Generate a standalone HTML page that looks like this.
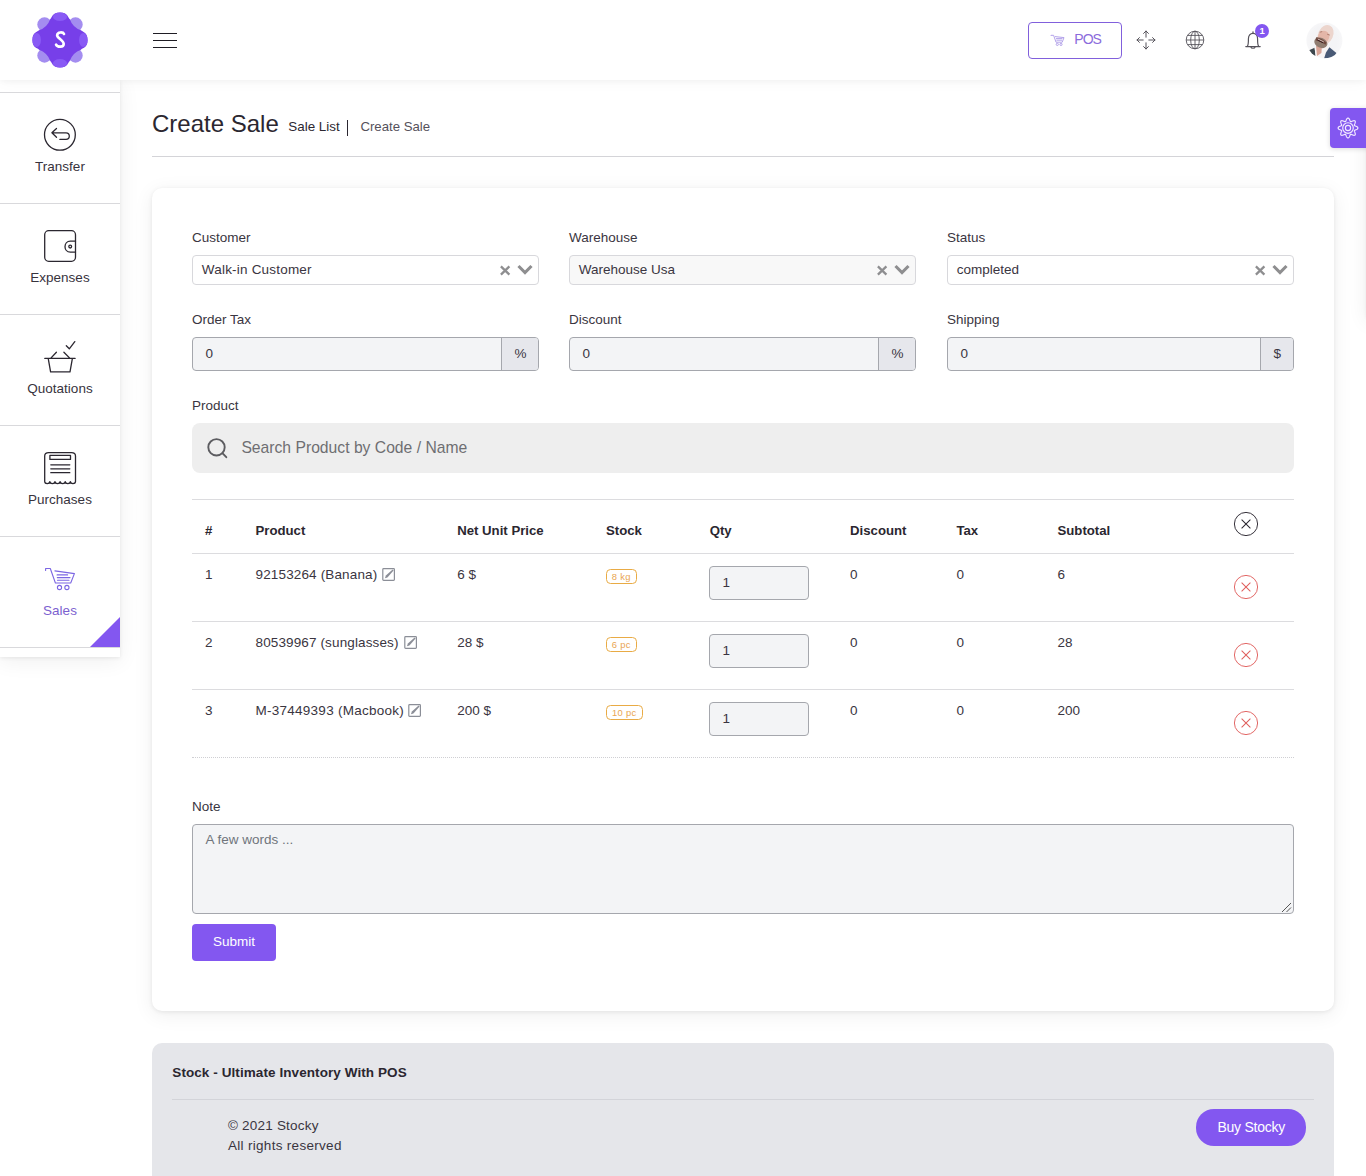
<!DOCTYPE html>
<html lang="en">
<head>
<meta charset="utf-8">
<title>Create Sale</title>
<style>
*{box-sizing:border-box;margin:0;padding:0}
html,body{width:1366px;height:1176px;overflow:hidden;background:#fff;font-family:"Liberation Sans",sans-serif;color:#332e38}
body{position:relative}
.a{position:absolute}
.t{position:absolute;white-space:nowrap;line-height:1;font-size:13px;color:#3a3541}
.b{font-weight:bold}
/* header */
#hdr{left:0;top:0;width:1366px;height:80px;background:#fff;box-shadow:0 1px 15px rgba(0,0,0,.04),0 1px 6px rgba(0,0,0,.04);z-index:5}
.hl{left:153px;width:24px;height:1.2px;background:#1f1d24}
#pos{left:1028px;top:22px;width:94px;height:37px;border:1px solid #8160dc;border-radius:4px}
/* sidebar */
#side{left:0;top:80px;width:120px;height:577px;background:#fff;box-shadow:0 4px 20px 1px rgba(0,0,0,.06),0 1px 4px rgba(0,0,0,.08);z-index:4;overflow:hidden}
.sl{left:0;width:120px;height:1px;background:#d9d9dc}
.st{width:120px;left:0;text-align:center;font-size:13.5px;color:#37333d}
#tri{left:90px;top:537px;width:0;height:0;border-style:solid;border-width:0 0 30px 30px;border-color:transparent transparent #8357f0 transparent}
/* main */
#sep{left:152px;top:156px;width:1182px;height:1px;background:#d4d4d8}
#card{left:152px;top:188px;width:1182px;height:823px;background:#fff;border-radius:10px;box-shadow:0 4px 20px 1px rgba(0,0,0,.06),0 1px 4px rgba(0,0,0,.08)}
#foot{left:152px;top:1043px;width:1182px;height:160px;background:#e5e6ea;border-radius:10px}
#gear{left:1330px;top:108px;width:40px;height:40px;box-shadow:0 1px 5px rgba(0,0,0,.15);background:#8357f0;border-radius:4px 0 0 4px;z-index:6}
/* form */
.lb,.sv,.iv,.ad,.th,.td{font-size:13.5px}
.sv{margin-left:.3px}
.th{font-size:13.2px;color:#2b2730}
.sel{height:30px;width:347px;border:1px solid #d8d8dc;border-radius:4px;background:#fff}
.sel.dis{background:#f8f8f8}
.inp{height:34px;width:347px;border:1px solid #a5a7ad;border-radius:4px;background:#f3f4f6;overflow:hidden}
.add{right:0;top:0;width:37px;height:32px;background:#e6e7ec;border-left:1px solid #a5a7ad}
#search{left:192px;top:423px;width:1102px;height:50px;background:#eeeeee;border-radius:8px}
.hr{left:192px;width:1102px;height:1px;background:#dcdcdf}
.qty{left:709px;width:100px;height:34px;border:1px solid #a5a7ad;border-radius:4px;background:#f3f4f6}
.bdg{height:15px;border:1px solid #e9ab45;border-radius:4.5px;color:#e9a552;font-size:9.4px;line-height:13.4px;text-align:center;letter-spacing:.3px;white-space:nowrap}
#note{left:192px;top:824px;width:1102px;height:90px;border:1px solid #a5a7ad;border-radius:4px;background:#f3f4f6}
#submit{left:192px;top:924px;width:84px;height:37px;background:#8357f0;border-radius:4px}
#buy{left:1196px;top:1109px;width:110px;height:36.5px;background:#8357f0;border-radius:18px}
</style>
</head>
<body>
<!-- HEADER -->
<div id="hdr" class="a">
  <div class="a hl" style="top:32.9px"></div>
  <div class="a hl" style="top:39.9px"></div>
  <div class="a hl" style="top:46.9px"></div>
  <div id="pos" class="a"></div>
<svg class="a" id="logo" style="left:30.4px;top:9.7px" width="60" height="60" viewBox="-30 -30 60 60">
<g fill="#a48df0"><circle cx="-15.5" cy="-15.5" r="7.2"/><circle cx="15.5" cy="-15.5" r="7.2"/><circle cx="-15.5" cy="15.5" r="7.2"/><circle cx="15.5" cy="15.5" r="7.2"/></g>
<path fill="#773fe9" d="M-9.7 -21.0 C-8 -22.2 -8 -27.6 0 -27.6 C8 -27.6 8 -22.2 9.7 -21.0 Q12.6 -12.6 21.0 -9.7 C22.2 -8 27.6 -8 27.6 0 C27.6 8 22.2 8 21.0 9.7 Q12.6 12.6 9.7 21.0 C8 22.2 8 27.6 0 27.6 C-8 27.6 -8 22.2 -9.7 21.0 Q-12.6 12.6 -21.0 9.7 C-22.2 8 -27.6 8 -27.6 0 C-27.6 -8 -22.2 -8 -21.0 -9.7 Q-12.6 -12.6 -9.7 -21.0 Z"/>
<g fill="#895af5"><ellipse cx="0" cy="-23.3" rx="7.1" ry="4.3"/><ellipse cx="0" cy="23.3" rx="7.1" ry="4.3"/><ellipse cx="-23.3" cy="0" rx="4.3" ry="7.1"/><ellipse cx="23.3" cy="0" rx="4.3" ry="7.1"/></g>
<path transform="translate(0.2 -0.3) scale(1.06)" d="M3.6 -5.4 C2.8 -7.3 -2.6 -7.7 -2.9 -4.2 C-3.1 -1.6 3.4 0.6 3.3 4 C3.2 7.3 -2.6 7.3 -3.9 4.6" fill="none" stroke="#fff" stroke-width="2.5" stroke-linecap="round"/>
</svg><svg class="a" style="left:1050px;top:34px" width="16" height="13" viewBox="0 0 16 13"><g fill="none" stroke="#b3a2ea" stroke-width="1"><path d="M1 2 L1 1.3 L3.6 1.3 L6 8.2 L12.2 8.2 L14 3.6 L5 2.6"/><circle cx="7.3" cy="10.4" r="1.1"/><circle cx="11" cy="10.4" r="1.1"/><path d="M6 4.6 H12.5 M6.4 6.2 H12"/></g></svg><svg class="a" style="left:1135.6px;top:30px" width="20" height="20" viewBox="0 0 20 20"><g fill="none" stroke="#55525a" stroke-width="1" stroke-linecap="round" stroke-linejoin="round"><path d="M10 1 V7.2 M7.6 3.4 L10 1 L12.4 3.4"/><path d="M10 19 V12.8 M7.6 16.6 L10 19 L12.4 16.6"/><path d="M1 10 H7.2 M3.4 7.6 L1 10 L3.4 12.4"/><path d="M19 10 H12.8 M16.6 7.6 L19 10 L16.6 12.4"/></g></svg><svg class="a" style="left:1185px;top:29.6px" width="20" height="20" viewBox="0 0 20 20"><g fill="none" stroke="#55525a" stroke-width="0.9"><circle cx="10" cy="10" r="8.8"/><ellipse cx="10" cy="10" rx="4.3" ry="8.8"/><path d="M10 1.2 V18.8 M1.2 10 H18.8 M2.6 5.4 H17.4 M2.6 14.6 H17.4"/></g></svg><svg class="a" style="left:1244px;top:29.8px" width="18" height="21" viewBox="0 0 18 21"><g fill="none" stroke="#55525a" stroke-width="1.2" stroke-linecap="round" stroke-linejoin="round"><path d="M1.8 16.6 H16.2 M3.2 16.6 C4.6 14.8 4.4 12 4.4 9 C4.4 5.6 6.2 3.4 9 3.4 C11.8 3.4 13.6 5.6 13.6 9 C13.6 12 13.4 14.8 14.8 16.6"/><path d="M9 3.4 V1.8"/><path d="M7 17.2 C7.2 18.6 10.8 18.6 11 17.2"/></g></svg><div class="a" style="left:1255.2px;top:23.8px;width:14px;height:14px;border-radius:7px;background:#8357f0"></div><div class="t b" style="left:1255.2px;top:26.3px;width:14px;text-align:center;font-size:9.5px;color:#fff">1</div><svg class="a" id="avatar" style="left:1300px;top:16px" width="48" height="48" viewBox="0 0 48 48"><defs><clipPath id="av"><circle cx="24.4" cy="24.4" r="18"/></clipPath><radialGradient id="avg"><stop offset="0.55" stop-color="#f4f4f6"/><stop offset="1" stop-color="#fafafb"/></radialGradient><filter id="avb" x="-20%" y="-20%" width="140%" height="140%"><feGaussianBlur stdDeviation="0.55"/></filter></defs><g clip-path="url(#av)"><rect width="48" height="48" fill="url(#avg)"/><g filter="url(#avb)"><path d="M8.5 34.5 L14.6 31.8 L15.6 39.8 L11.5 40.5 Z" fill="#3d464d"/><path d="M14.6 31.8 L29.4 31 L24.5 42 L15.6 39.8 Z" fill="#f8f5f5"/><path d="M16 30 L22 30 L21.4 37 L17 40 Z" fill="#d9a597"/><path d="M29.4 31.2 L36.4 37 L33 42 L24.2 42.2 L26 36.6 Z" fill="#4a5a76"/><ellipse cx="25.6" cy="18.8" rx="7.5" ry="10.2" transform="rotate(24 25.6 18.8)" fill="#ecd5cd"/><ellipse cx="23.6" cy="20.8" rx="5.6" ry="6" transform="rotate(24 23.6 20.8)" fill="#e3b6a8"/><ellipse cx="20.8" cy="26.8" rx="6.8" ry="5" transform="rotate(24 20.8 26.8)" fill="#8f7b70"/><path d="M16.4 21 C18 21.6 23.5 23.4 26.5 26.6 L25.6 28.8 C22.5 26.6 18.6 25.2 15.8 24.6 Z" fill="#70493f"/><path d="M17.8 23 L23.8 25.9" stroke="#dccbc5" stroke-width="0.9" fill="none"/><path d="M17.4 24 L23.2 26.9" stroke="#3a1f1f" stroke-width="1" fill="none"/><path d="M19.6 16.2 l2.6 -.6 M27.2 18.2 l2.6 .9" stroke="#a97464" stroke-width="0.9" fill="none"/></g></g></svg>
  <div class="t" id="post" style="left:1074.3px;top:32px;font-size:14px;letter-spacing:-0.95px;color:#8b6bdc">POS</div>
</div>

<!-- SIDEBAR -->
<div id="side" class="a">
  <div class="a sl" style="top:12px"></div>
  <div class="a sl" style="top:123px"></div>
  <div class="a sl" style="top:234px"></div>
  <div class="a sl" style="top:345px"></div>
  <div class="a sl" style="top:456px"></div>
  <div class="a sl" style="top:567px"></div>
  <div class="t st" style="top:80px">Transfer</div>
  <div class="t st" style="top:191px">Expenses</div>
  <div class="t st" style="top:302px">Quotations</div>
  <div class="t st" style="top:413px">Purchases</div>
  <div class="t st" style="top:524px;color:#7c5fd0">Sales</div>
  <svg class="a" style="left:43px;top:38px" width="34" height="34" viewBox="43 118 34 34"><g fill="none" stroke="#2b2730" stroke-width="1.3" stroke-linecap="round" stroke-linejoin="round"><circle cx="59.9" cy="134.8" r="15.4"/><path d="M56.5 128.5 L51.9 132.8 L56.5 137.3 M52.2 132.8 H66 C70.4 132.8 70.4 139.4 66 139.4 H59.9"/></g></svg>
<svg class="a" style="left:43px;top:149px" width="34" height="34" viewBox="43 229 34 34"><g fill="none" stroke="#2b2730" stroke-width="1.3" stroke-linecap="round" stroke-linejoin="round"><rect x="44.7" y="230.7" width="30.8" height="30.6" rx="4"/><path d="M75.5 241.2 H70.4 C63.2 241.2 63.2 252.1 70.4 252.1 H75.5"/><circle cx="70.2" cy="246.6" r="1.4"/></g></svg>
<svg class="a" style="left:43px;top:260px" width="34" height="34" viewBox="43 340 34 34"><g fill="none" stroke="#2b2730" stroke-width="1.3" stroke-linecap="round" stroke-linejoin="round" stroke-linecap="butt" stroke-linejoin="miter"><path d="M44.8 358.4 H75.1 M48.2 358.4 L50.6 371.9 H70 L72.4 358.4 M50.6 358.4 L56.4 352.2 M70 358.4 L63.9 352.2 M66.3 345.7 L69.3 348.8 L74.8 341.6"/></g></svg>
<svg class="a" style="left:43px;top:371px" width="34" height="34" viewBox="43 451 34 34"><g fill="none" stroke="#2b2730" stroke-width="1.3" stroke-linecap="round" stroke-linejoin="round"><path d="M44.7 481.6 V456 C44.7 453.6 46.2 452.7 48.7 452.7 H71.5 C74.0 452.7 75.5 453.6 75.5 456 V481.6 C75.2 484.2 70.66666666666667 484.2 70.36666666666667 481.6 C70.06666666666668 484.2 65.53333333333335 484.2 65.23333333333335 481.6 C64.93333333333334 484.2 60.4 484.2 60.1 481.6 C59.800000000000004 484.2 55.266666666666666 484.2 54.96666666666667 481.6 C54.66666666666667 484.2 50.13333333333333 484.2 49.833333333333336 481.6 C49.53333333333334 484.2 45.0 484.2 44.7 481.6"/><rect x="49.9" y="455.4" width="20.6" height="4"/><path d="M50.8 464.8 H69.8 M50.8 468.8 H69.8 M50.8 472.7 H69.8"/></g></svg>
<svg class="a" style="left:43px;top:486px" width="34" height="26" viewBox="43 566 34 26"><g fill="none" stroke="#7c66e3" stroke-width="1.1" stroke-linecap="round" stroke-linejoin="round"><path d="M45.6 570.4 V568.5 H50.3 L55.4 583 H70.7 L74.4 573.6 L54.9 570.9"/><path d="M57.1 574.9 H67.6 M57.3 577.6 H70 M57.5 580.2 H69"/><circle cx="59.5" cy="587.5" r="2.1"/><circle cx="66.9" cy="587.5" r="2.1"/></g></svg>
<div id="tri" class="a"></div>
</div>

<!-- MAIN -->
<div class="t" id="title" style="left:152px;top:112px;font-size:24px;color:#2b2730">Create Sale</div>
<div class="t" id="bc1" style="left:288.3px;top:120px;font-size:13.4px;color:#2b2730">Sale List</div>
<div class="a" id="bc2" style="left:347px;top:120px;width:1.3px;height:16px;background:#2b2730"></div>
<div class="t" id="bc3" style="left:360.4px;top:120px;font-size:13.2px;color:#55515b">Create Sale</div>
<div id="sep" class="a"></div>
<div class="a" style="left:1367px;top:112px;width:60px;height:205px;box-shadow:0 4px 20px 1px rgba(0,0,0,.07),0 1px 4px rgba(0,0,0,.09);z-index:3"></div>
<div id="gear" class="a"><svg class="a" style="left:7px;top:9.1px" width="22" height="22" viewBox="-11 -11 22 22"><g fill="none" stroke="#f1e9ff" stroke-width="1.15"><path d="M0.00 -9.90 L0.26 -9.86 L0.51 -9.76 L0.75 -9.58 L0.98 -9.35 L1.19 -9.07 L1.39 -8.75 L1.56 -8.41 L1.71 -8.06 L1.85 -7.72 L1.98 -7.39 L2.10 -7.09 L2.22 -6.83 L2.35 -6.63 L2.48 -6.47 L2.64 -6.37 L2.82 -6.33 L3.03 -6.34 L3.26 -6.40 L3.53 -6.50 L3.82 -6.63 L4.15 -6.77 L4.49 -6.91 L4.85 -7.05 L5.21 -7.17 L5.57 -7.26 L5.92 -7.31 L6.24 -7.31 L6.54 -7.26 L6.79 -7.16 L7.00 -7.00 L7.16 -6.79 L7.26 -6.54 L7.31 -6.24 L7.31 -5.92 L7.26 -5.57 L7.17 -5.21 L7.05 -4.85 L6.91 -4.49 L6.77 -4.15 L6.63 -3.83 L6.50 -3.53 L6.40 -3.26 L6.34 -3.03 L6.33 -2.82 L6.37 -2.64 L6.47 -2.48 L6.63 -2.35 L6.83 -2.22 L7.09 -2.10 L7.39 -1.98 L7.72 -1.85 L8.06 -1.71 L8.41 -1.56 L8.75 -1.39 L9.07 -1.19 L9.35 -0.98 L9.58 -0.75 L9.76 -0.51 L9.86 -0.26 L9.90 -0.00 L9.86 0.26 L9.76 0.51 L9.58 0.75 L9.35 0.98 L9.07 1.19 L8.75 1.39 L8.41 1.56 L8.06 1.71 L7.72 1.85 L7.39 1.98 L7.09 2.10 L6.83 2.22 L6.63 2.35 L6.47 2.48 L6.37 2.64 L6.33 2.82 L6.34 3.03 L6.40 3.26 L6.50 3.53 L6.63 3.82 L6.77 4.15 L6.91 4.49 L7.05 4.85 L7.17 5.21 L7.26 5.57 L7.31 5.92 L7.31 6.24 L7.26 6.54 L7.16 6.79 L7.00 7.00 L6.79 7.16 L6.54 7.26 L6.24 7.31 L5.92 7.31 L5.57 7.26 L5.21 7.17 L4.85 7.05 L4.49 6.91 L4.15 6.77 L3.82 6.63 L3.53 6.50 L3.26 6.40 L3.03 6.34 L2.82 6.33 L2.64 6.37 L2.48 6.47 L2.35 6.63 L2.22 6.83 L2.10 7.09 L1.98 7.39 L1.85 7.72 L1.71 8.06 L1.56 8.41 L1.39 8.75 L1.19 9.07 L0.98 9.35 L0.75 9.58 L0.51 9.76 L0.26 9.86 L0.00 9.90 L-0.26 9.86 L-0.51 9.76 L-0.75 9.58 L-0.98 9.35 L-1.19 9.07 L-1.39 8.75 L-1.56 8.41 L-1.71 8.06 L-1.85 7.72 L-1.98 7.39 L-2.10 7.09 L-2.22 6.83 L-2.35 6.63 L-2.48 6.47 L-2.64 6.37 L-2.82 6.33 L-3.03 6.34 L-3.26 6.40 L-3.53 6.50 L-3.82 6.63 L-4.15 6.77 L-4.49 6.91 L-4.85 7.05 L-5.21 7.17 L-5.57 7.26 L-5.92 7.31 L-6.24 7.31 L-6.54 7.26 L-6.79 7.16 L-7.00 7.00 L-7.16 6.79 L-7.26 6.54 L-7.31 6.24 L-7.31 5.92 L-7.26 5.57 L-7.17 5.21 L-7.05 4.85 L-6.91 4.49 L-6.77 4.15 L-6.63 3.83 L-6.50 3.53 L-6.40 3.26 L-6.34 3.03 L-6.33 2.82 L-6.37 2.64 L-6.47 2.48 L-6.63 2.35 L-6.83 2.22 L-7.09 2.10 L-7.39 1.98 L-7.72 1.85 L-8.06 1.71 L-8.41 1.56 L-8.75 1.39 L-9.07 1.19 L-9.35 0.98 L-9.58 0.75 L-9.76 0.51 L-9.86 0.26 L-9.90 0.00 L-9.86 -0.26 L-9.76 -0.51 L-9.58 -0.75 L-9.35 -0.98 L-9.07 -1.19 L-8.75 -1.39 L-8.41 -1.56 L-8.06 -1.71 L-7.72 -1.85 L-7.39 -1.98 L-7.09 -2.10 L-6.83 -2.22 L-6.63 -2.35 L-6.47 -2.48 L-6.37 -2.64 L-6.33 -2.82 L-6.34 -3.03 L-6.40 -3.26 L-6.50 -3.53 L-6.63 -3.83 L-6.77 -4.15 L-6.91 -4.49 L-7.05 -4.85 L-7.17 -5.21 L-7.26 -5.57 L-7.31 -5.92 L-7.31 -6.24 L-7.26 -6.54 L-7.16 -6.79 L-7.00 -7.00 L-6.79 -7.16 L-6.54 -7.26 L-6.24 -7.31 L-5.92 -7.31 L-5.57 -7.26 L-5.21 -7.17 L-4.85 -7.05 L-4.49 -6.91 L-4.15 -6.77 L-3.82 -6.63 L-3.53 -6.50 L-3.26 -6.40 L-3.03 -6.34 L-2.82 -6.33 L-2.64 -6.37 L-2.48 -6.47 L-2.35 -6.63 L-2.22 -6.83 L-2.10 -7.09 L-1.98 -7.39 L-1.85 -7.72 L-1.71 -8.06 L-1.56 -8.41 L-1.39 -8.75 L-1.19 -9.07 L-0.98 -9.35 L-0.75 -9.58 L-0.51 -9.76 L-0.26 -9.86 Z"/><circle r="5.3"/><circle r="2.6"/></g></svg></div>

<div id="card" class="a"></div>

<!-- FORM -->
<div id="form">
<div class="t lb" style="left:192px;top:231px">Customer</div>
<div class="a sel" style="left:192px;top:255px"></div>
<div class="t sv" style="left:201.5px;top:263px;letter-spacing:.2px">Walk-in Customer</div>
<svg class="a" style="left:499.5px;top:265px" width="11" height="11" viewBox="0 0 11 11"><path d="M0.9 1.4 L9.4 9.6 M9.4 1.4 L0.9 9.6" stroke="#8e8e90" stroke-width="2.3" fill="none"/></svg>
<svg class="a" style="left:516.5px;top:264px" width="16" height="11" viewBox="0 0 16 11"><path d="M1.5 2 L8 8.5 L14.5 2" stroke="#8e8e90" stroke-width="3.1" fill="none" stroke-linejoin="miter"/></svg>
<div class="t lb" style="left:192px;top:312.5px">Order Tax</div>
<div class="a inp" style="left:192px;top:337px"><div class="a add"></div></div>
<div class="t iv" style="left:205.5px;top:346.6px">0</div>
<div class="t ad" style="left:502px;top:347px;width:37px;text-align:center">%</div>
<div class="t lb" style="left:569px;top:231px">Warehouse</div>
<div class="a sel dis" style="left:569px;top:255px"></div>
<div class="t sv" style="left:578.5px;top:263px">Warehouse Usa</div>
<svg class="a" style="left:876.5px;top:265px" width="11" height="11" viewBox="0 0 11 11"><path d="M0.9 1.4 L9.4 9.6 M9.4 1.4 L0.9 9.6" stroke="#8e8e90" stroke-width="2.3" fill="none"/></svg>
<svg class="a" style="left:893.5px;top:264px" width="16" height="11" viewBox="0 0 16 11"><path d="M1.5 2 L8 8.5 L14.5 2" stroke="#8e8e90" stroke-width="3.1" fill="none" stroke-linejoin="miter"/></svg>
<div class="t lb" style="left:569px;top:312.5px">Discount</div>
<div class="a inp" style="left:569px;top:337px"><div class="a add"></div></div>
<div class="t iv" style="left:582.5px;top:346.6px">0</div>
<div class="t ad" style="left:879px;top:347px;width:37px;text-align:center">%</div>
<div class="t lb" style="left:947px;top:231px">Status</div>
<div class="a sel" style="left:947px;top:255px"></div>
<div class="t sv" style="left:956.5px;top:263px">completed</div>
<svg class="a" style="left:1254.5px;top:265px" width="11" height="11" viewBox="0 0 11 11"><path d="M0.9 1.4 L9.4 9.6 M9.4 1.4 L0.9 9.6" stroke="#8e8e90" stroke-width="2.3" fill="none"/></svg>
<svg class="a" style="left:1271.5px;top:264px" width="16" height="11" viewBox="0 0 16 11"><path d="M1.5 2 L8 8.5 L14.5 2" stroke="#8e8e90" stroke-width="3.1" fill="none" stroke-linejoin="miter"/></svg>
<div class="t lb" style="left:947px;top:312.5px">Shipping</div>
<div class="a inp" style="left:947px;top:337px"><div class="a add" style="width:33.5px"></div></div>
<div class="t iv" style="left:960.5px;top:346.6px">0</div>
<div class="t ad" style="left:1260.5px;top:347px;width:33.5px;text-align:center">$</div>
<div class="t lb" style="left:192px;top:399.2px">Product</div>
<div id="search" class="a"></div>
<svg class="a" style="left:205px;top:436px" width="26" height="26" viewBox="0 0 26 26"><circle cx="11.5" cy="11.3" r="8.2" fill="none" stroke="#5c5c60" stroke-width="1.9"/><path d="M17.4 17.2 L21.3 21.2" stroke="#5c5c60" stroke-width="1.9" stroke-linecap="round"/></svg>
<div class="t" id="ph" style="left:241.4px;top:440.4px;font-size:15.7px;color:#6e6e72">Search Product by Code / Name</div>
<div class="a hr" style="top:499px"></div>
<div class="a hr" style="top:553px"></div>
<div class="a hr" style="top:621px"></div>
<div class="a hr" style="top:689px"></div>
<div class="a" style="left:192px;top:757px;width:1102px;height:0;border-top:1px dotted #cfcfd3"></div>
<div class="t b th" style="left:205px;top:523.8px">#</div>
<div class="t b th" style="left:255.5px;top:523.8px">Product</div>
<div class="t b th" style="left:457.2px;top:523.8px">Net Unit Price</div>
<div class="t b th" style="left:606px;top:523.8px">Stock</div>
<div class="t b th" style="left:709.7px;top:523.8px">Qty</div>
<div class="t b th" style="left:850.1px;top:523.8px">Discount</div>
<div class="t b th" style="left:956.4px;top:523.8px">Tax</div>
<div class="t b th" style="left:1057.5px;top:523.8px">Subtotal</div>
<svg class="a" style="left:1233.3px;top:510.8px" width="26" height="26" viewBox="0 0 26 26"><circle cx="13" cy="13" r="11.6" fill="none" stroke="#2b2730" stroke-width="0.95"/><path d="M8.6 8.6 L17.4 17.4 M17.4 8.6 L8.6 17.4" stroke="#2b2730" stroke-width="1.05" fill="none"/></svg>
<div class="t td" style="left:205px;top:568.2px">1</div>
<div class="t td pn" style="left:255.5px;top:568.2px;letter-spacing:.15px">92153264 (Banana)</div>
<div class="t td" style="left:457.2px;top:568.2px">6 $</div>
<div class="a bdg" style="left:606px;top:569px;width:30.5px">8 kg</div>
<div class="a qty" style="top:566px"></div>
<div class="t td" style="left:722.5px;top:575.6px">1</div>
<div class="t td" style="left:850.1px;top:568.2px">0</div>
<div class="t td" style="left:956.4px;top:568.2px">0</div>
<div class="t td" style="left:1057.5px;top:568.2px">6</div>
<svg class="a" style="left:1233.3px;top:574px" width="26" height="26" viewBox="0 0 26 26"><circle cx="13" cy="13" r="11.6" fill="none" stroke="#e0605e" stroke-width="0.95"/><path d="M8.6 8.6 L17.4 17.4 M17.4 8.6 L8.6 17.4" stroke="#e0605e" stroke-width="1.05" fill="none"/></svg>
<svg class="a ed" style="left:382px;top:567px" width="14" height="14" viewBox="0 0 14 14"><rect x="0.8" y="1.7" width="11.6" height="11.6" rx="0.8" fill="none" stroke="#8b8e97" stroke-width="1.2"/><path d="M2.9 11.3 L3.9 8.4 L10.6 2.6 L11.6 3.6 L5.4 10.6 Z" fill="#8b8e97"/></svg>
<div class="t td" style="left:205px;top:636.2px">2</div>
<div class="t td pn" style="left:255.5px;top:636.2px;letter-spacing:.13px">80539967 (sunglasses)</div>
<div class="t td" style="left:457.2px;top:636.2px">28 $</div>
<div class="a bdg" style="left:606px;top:637px;width:30.5px">6 pc</div>
<div class="a qty" style="top:634px"></div>
<div class="t td" style="left:722.5px;top:643.6px">1</div>
<div class="t td" style="left:850.1px;top:636.2px">0</div>
<div class="t td" style="left:956.4px;top:636.2px">0</div>
<div class="t td" style="left:1057.5px;top:636.2px">28</div>
<svg class="a" style="left:1233.3px;top:642px" width="26" height="26" viewBox="0 0 26 26"><circle cx="13" cy="13" r="11.6" fill="none" stroke="#e0605e" stroke-width="0.95"/><path d="M8.6 8.6 L17.4 17.4 M17.4 8.6 L8.6 17.4" stroke="#e0605e" stroke-width="1.05" fill="none"/></svg>
<svg class="a ed" style="left:404px;top:635px" width="14" height="14" viewBox="0 0 14 14"><rect x="0.8" y="1.7" width="11.6" height="11.6" rx="0.8" fill="none" stroke="#8b8e97" stroke-width="1.2"/><path d="M2.9 11.3 L3.9 8.4 L10.6 2.6 L11.6 3.6 L5.4 10.6 Z" fill="#8b8e97"/></svg>
<div class="t td" style="left:205px;top:704.2px">3</div>
<div class="t td pn" style="left:255.5px;top:704.2px;letter-spacing:.26px">M-37449393 (Macbook)</div>
<div class="t td" style="left:457.2px;top:704.2px">200 $</div>
<div class="a bdg" style="left:606px;top:705px;width:36.5px">10 pc</div>
<div class="a qty" style="top:702px"></div>
<div class="t td" style="left:722.5px;top:711.6px">1</div>
<div class="t td" style="left:850.1px;top:704.2px">0</div>
<div class="t td" style="left:956.4px;top:704.2px">0</div>
<div class="t td" style="left:1057.5px;top:704.2px">200</div>
<svg class="a" style="left:1233.3px;top:710px" width="26" height="26" viewBox="0 0 26 26"><circle cx="13" cy="13" r="11.6" fill="none" stroke="#e0605e" stroke-width="0.95"/><path d="M8.6 8.6 L17.4 17.4 M17.4 8.6 L8.6 17.4" stroke="#e0605e" stroke-width="1.05" fill="none"/></svg>
<svg class="a ed" style="left:408.2px;top:703px" width="14" height="14" viewBox="0 0 14 14"><rect x="0.8" y="1.7" width="11.6" height="11.6" rx="0.8" fill="none" stroke="#8b8e97" stroke-width="1.2"/><path d="M2.9 11.3 L3.9 8.4 L10.6 2.6 L11.6 3.6 L5.4 10.6 Z" fill="#8b8e97"/></svg>
<div class="t lb" style="left:192px;top:799.9px">Note</div>
<div id="note" class="a"></div>
<div class="t" id="nph" style="left:205.5px;top:833px;font-size:13.5px;color:#70757c">A few words ...</div>
<svg class="a" style="left:1281px;top:901.8px" width="11" height="11" viewBox="0 0 11 11"><path d="M10 1 L1 10 M10 5.5 L5.5 10" stroke="#555" stroke-width="1" fill="none"/></svg>
<div id="submit" class="a"></div>
<div class="t" id="subt" style="left:213px;top:934.5px;font-size:13.5px;color:#fff">Submit</div>
</div>

<!-- FOOTER -->
<div id="foot" class="a"></div>
<div class="t b" id="ft1" style="left:172.3px;top:1066px;font-size:13.5px;letter-spacing:.08px;color:#2b2730">Stock - Ultimate Inventory With POS</div>
<div class="a" style="left:172px;top:1099px;width:1142px;height:1px;background:#d3d4d9"></div>
<div class="t" id="ft2" style="left:228px;top:1119px;font-size:13.5px;letter-spacing:.2px">© 2021 Stocky</div>
<div class="t" id="ft3" style="left:228px;top:1139px;font-size:13.5px;letter-spacing:.3px">All rights reserved</div>
<div id="buy" class="a"></div>
<div class="t" id="buyt" style="left:1217.4px;top:1120.3px;font-size:14px;letter-spacing:-.25px;color:#fff">Buy Stocky</div>
</body>
</html>
